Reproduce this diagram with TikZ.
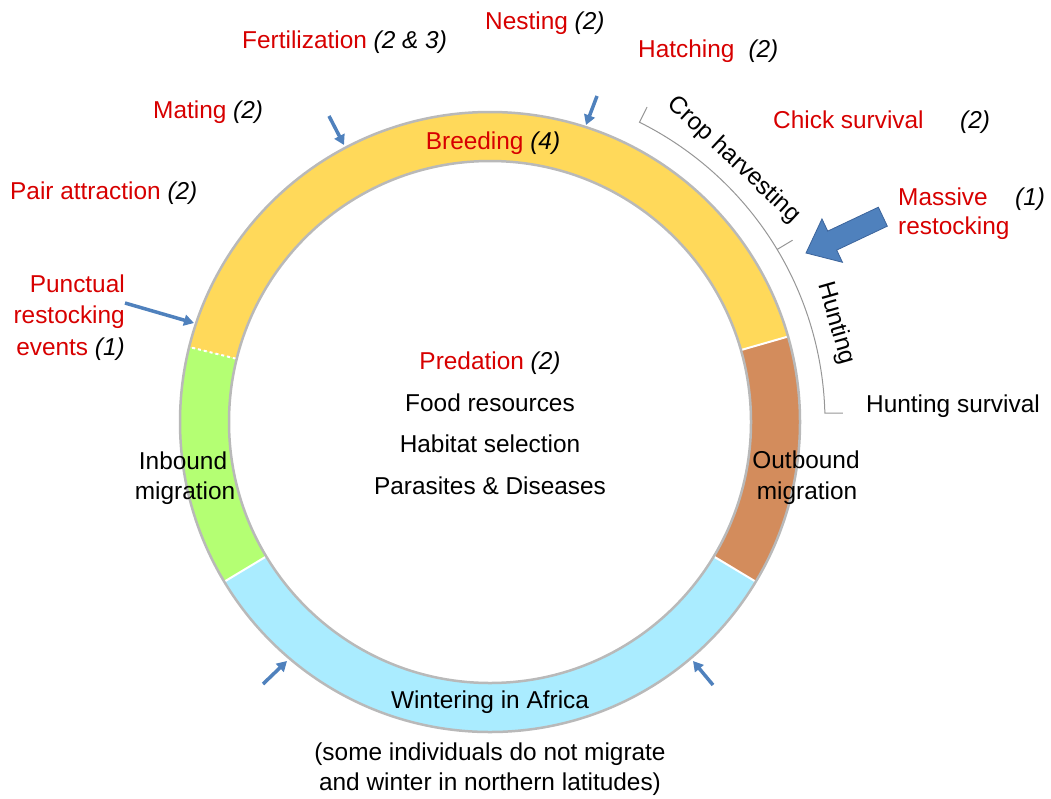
\documentclass[tikz,border=0pt]{standalone}
\usepackage{fontspec}
\setmainfont{Liberation Sans}
\usetikzlibrary{arrows.meta}
\definecolor{cred}{RGB}{215,0,0}
\definecolor{cyellow}{RGB}{255,217,90}
\definecolor{cgreen}{RGB}{180,255,115}
\definecolor{cblue}{RGB}{170,236,255}
\definecolor{cbrown}{RGB}{211,140,92}
\definecolor{cring}{RGB}{185,185,185}
\definecolor{carrow}{RGB}{79,129,189}
\definecolor{carrowdark}{RGB}{60,100,155}
\definecolor{cbracket}{RGB}{150,150,150}
\newcommand{\rd}[1]{\textcolor{cred}{#1}}
\newcommand{\itx}[1]{\textit{#1}}
\tikzset{
  lbl/.style={anchor=base west},
  lblc/.style={anchor=base},
  lble/.style={anchor=base east},
  smallarrow/.style={draw=carrow, line width=3.5pt, -{Triangle[length=10pt,width=11pt]}},
  bracket/.style={draw=cbracket, line width=1pt},
  sep/.style={draw=white, line width=2pt},
}
\begin{document}
\begin{tikzpicture}[x=1pt,y=-1pt, every node/.style={font=\fontsize{24.4}{30}\selectfont, inner sep=0pt}]
\useasboundingbox (0,0) rectangle (1051,798);
\coordinate (C) at (490,422);
% ring
\begin{scope}[shift={(490,422)}, yscale=-1]
  \fill[cyellow] (16:310) arc[start angle=16, end angle=166, radius=310] -- (166:261) arc[start angle=166, end angle=16, radius=261] -- cycle;
  \fill[cgreen] (166:310) arc[start angle=166, end angle=211, radius=310] -- (211:261) arc[start angle=211, end angle=166, radius=261] -- cycle;
  \fill[cblue] (211:310) arc[start angle=211, end angle=329, radius=310] -- (329:261) arc[start angle=329, end angle=211, radius=261] -- cycle;
  \fill[cbrown] (-31:310) arc[start angle=-31, end angle=16, radius=310] -- (16:261) arc[start angle=16, end angle=-31, radius=261] -- cycle;
  \draw[sep] (16:262) -- (16:309);
  \draw[sep] (-31:262) -- (-31:309);
  \draw[sep] (211:262) -- (211:309);
  \draw[sep, dash pattern=on 3pt off 3pt] (166:262) -- (166:309);
  \draw[cring, line width=2.5pt] (0,0) circle[radius=310];
  \draw[cring, line width=2.5pt] (0,0) circle[radius=261];
  % brackets
  \draw[bracket] (63.5:352) -- (63.5:335) arc[start angle=63.5, end angle=31, radius=335] -- (31:353);
  \draw[bracket] (31:335) arc[start angle=31, end angle=1.5, radius=335] -- ++(18,0);
\end{scope}

% ring labels
\node[lblc] (breed) at (493,149) {\rd{Breeding} \itx{(4)}};
\node[lblc] (inb1) at (183,469) {Inbound};
\node[lblc] (inb2) at (185,499) {migration};
\node[lblc] (outb1) at (806,468) {Outbound};
\node[lblc] (outb2) at (807,499) {migration};
\node[lblc] (wint) at (490,708) {Wintering in Africa};
\node[lblc] (some1) at (490,760) {(some individuals do not migrate};
\node[lblc] (some2) at (490,790) {and winter in northern latitudes)};

% centre
\node[lblc] (pred) at (490,369) {\rd{Predation} \itx{(2)}};
\node[lblc] (food) at (490,411) {Food resources};
\node[lblc] (hab) at (490,452) {Habitat selection};
\node[lblc] (para) at (490,494) {Parasites \& Diseases};

% outer labels
\node[lbl] (nest) at (485,29) {\rd{Nesting} \itx{(2)}};
\node[lbl] (fert) at (242,48) {\rd{Fertilization} \itx{(2 \& 3)}};
\node[lbl] (hatch) at (638,57) {\rd{Hatching}\hspace{14pt}\itx{(2)}};
\node[lbl] (mat) at (153,118) {\rd{Mating} \itx{(2)}};
\node[lbl] (chick) at (773,128) {\rd{Chick survival}};
\node[lbl] (chickn) at (960,128) {\itx{(2)}};
\node[lbl] (pair) at (10,199) {\rd{Pair attraction} \itx{(2)}};
\node[lbl] (mass1) at (898,205) {\rd{Massive}};
\node[lbl] (mass2) at (898,234) {\rd{restocking}};
\node[lbl] (massn) at (1015,205) {\itx{(1)}};
\node[lble] (punc1) at (125,292) {\rd{Punctual}};
\node[lble] (punc2) at (125,323) {\rd{restocking}};
\node[lble] (punc3) at (125,355) {\rd{events} \itx{(1)}};
\node[lbl] (hsurv) at (866,412) {Hunting survival};
\node[rotate=-43] (crop) at (734,160) {Crop harvesting};
\node[rotate=-74] (hunt) at (836,323) {Hunting};

% small arrows
\coordinate (pa1) at (125,303); \coordinate (pa2) at (194,323);
\coordinate (ma1) at (329,116); \coordinate (ma2) at (344,145);
\coordinate (ne1) at (597,96);  \coordinate (ne2) at (586,125);
\coordinate (wl1) at (263,684); \coordinate (wl2) at (287,661);
\coordinate (wr1) at (713,685); \coordinate (wr2) at (693,661);
\draw[smallarrow] (pa1) -- (pa2);
\draw[smallarrow] (ma1) -- (ma2);
\draw[smallarrow] (ne1) -- (ne2);
\draw[smallarrow] (wl1) -- (wl2);
\draw[smallarrow] (wr1) -- (wr2);

% big arrow
\begin{scope}[shift={(806,253)}, rotate=205.3]
  \filldraw[fill=carrow, draw=carrowdark, line width=0.8pt]
    (0,0) -- (-29,24) -- (-29,10.5) -- (-85,10.5) -- (-85,-10.5) -- (-29,-10.5) -- (-29,-24) -- cycle;
\end{scope}
\end{tikzpicture}
\end{document}
